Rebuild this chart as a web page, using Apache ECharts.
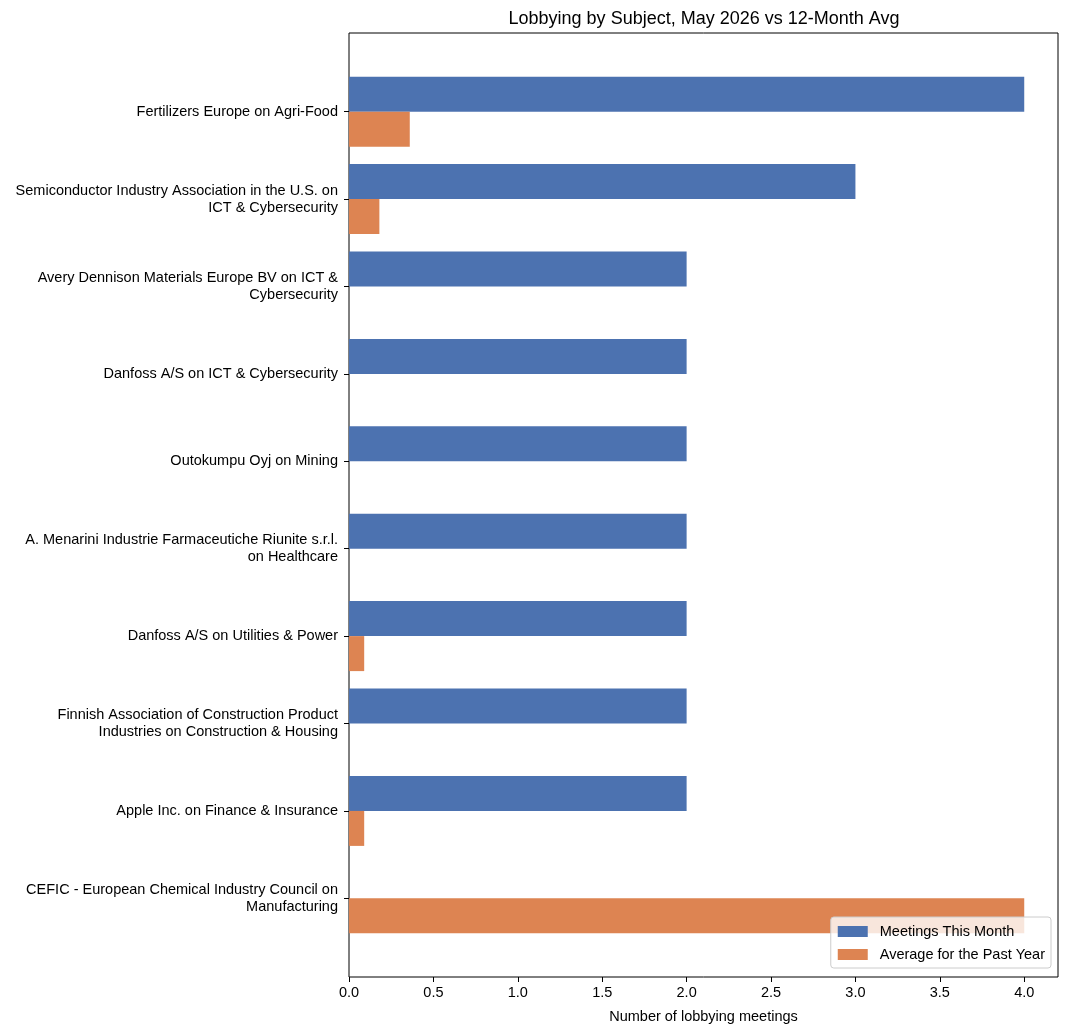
<!DOCTYPE html>
<html>
<head>
<meta charset="utf-8">
<script src="https://cdn.jsdelivr.net/npm/echarts@6/dist/echarts.min.js"></script>
<style>
  html, body { margin: 0; padding: 0; background: #fff; }
  #chart { width: 1069px; height: 1033px; }
</style>
</head>
<body>
<div id="chart"></div>
<script>
// data
var subjects = [
  'Fertilizers Europe on Agri-Food',
  'Semiconductor Industry Association in the U.S. on\nICT & Cybersecurity',
  'Avery Dennison Materials Europe BV on ICT &\nCybersecurity',
  'Danfoss A/S on ICT & Cybersecurity',
  'Outokumpu Oyj on Mining',
  'A. Menarini Industrie Farmaceutiche Riunite s.r.l.\non Healthcare',
  'Danfoss A/S on Utilities & Power',
  'Finnish Association of Construction Product\nIndustries on Construction & Housing',
  'Apple Inc. on Finance & Insurance',
  'CEFIC - European Chemical Industry Council on\nManufacturing'
];
var thisMonth = [4, 3, 2, 2, 2, 2, 2, 2, 2, 0];
var pastYearAvg = [0.36, 0.18, 0, 0, 0, 0, 0.09, 0, 0.09, 4];
var xTicks = [0, 0.5, 1, 1.5, 2, 2.5, 3, 3.5, 4];

var FONT = 'Liberation Sans, Arial, sans-serif';
var myChart = echarts.init(document.getElementById('chart'));

var option = {
  animation: false,
  textStyle: { fontFamily: FONT },
  title: {
    text: 'Lobbying by Subject, May 2026 vs 12-Month Avg',
    left: 699,
    textAlign: 'center',
    top: 5,
    textStyle: { fontFamily: FONT, fontSize: 18, fontWeight: 'normal', color: '#000' }
  },
  legend: {
    orient: 'vertical',
    right: 18,
    bottom: 65,
    itemWidth: 30,
    itemHeight: 11,
    itemGap: 8,
    padding: [7, 6, 6, 7],
    backgroundColor: 'rgba(255,255,255,0.8)',
    borderColor: '#cccccc',
    borderWidth: 1,
    borderRadius: 3,
    textStyle: { fontFamily: FONT, fontSize: 14.5, color: '#000', padding: [0, 0, 0, 7] },
    data: [
      { name: 'Meetings This Month', icon: 'rect' },
      { name: 'Average for the Past Year', icon: 'rect' }
    ]
  },
  grid: [
    // frame + x axis
    { left: 349, right: 11, top: 33, bottom: 56, show: true, borderColor: '#000', borderWidth: 1, backgroundColor: 'transparent' },
    // bars
    { left: 349, right: 11, top: 68, bottom: 91 }
  ],
  xAxis: [
    {
      gridIndex: 0,
      type: 'value',
      min: 0,
      max: 4.2,
      interval: 0.5,
      name: 'Number of lobbying meetings',
      nameLocation: 'middle',
      nameGap: 32,
      nameTextStyle: { fontFamily: FONT, fontSize: 14.5, color: '#000' },
      splitLine: { show: false },
      axisLine: { show: false },
      axisTick: { show: true, length: 5, lineStyle: { color: '#000' } },
      axisLabel: {
        fontFamily: FONT, fontSize: 14.5, color: '#000', margin: 8,
        showMaxLabel: false,
        formatter: function (v) { return xTicks.indexOf(v) >= 0 ? v.toFixed(1) : ''; }
      }
    },
    {
      gridIndex: 1,
      type: 'value',
      min: 0,
      max: 4.2,
      show: false
    }
  ],
  yAxis: [
    {
      gridIndex: 0,
      type: 'value',
      min: 0,
      max: 1,
      show: false
    },
    {
      gridIndex: 1,
      type: 'category',
      inverse: true,
      data: subjects,
      axisLine: { show: false },
      axisTick: { show: true, alignWithLabel: true, length: 5, lineStyle: { color: '#000' } },
      axisLabel: {
        fontFamily: FONT, fontSize: 14.5, color: '#000', margin: 11,
        align: 'right', lineHeight: 17
      }
    }
  ],
  series: [
    {
      name: 'Meetings This Month',
      type: 'bar',
      xAxisIndex: 1,
      yAxisIndex: 1,
      barWidth: 35,
      barGap: '0%',
      itemStyle: { color: '#4c72b0' },
      data: thisMonth
    },
    {
      name: 'Average for the Past Year',
      type: 'bar',
      xAxisIndex: 1,
      yAxisIndex: 1,
      barWidth: 35,
      barGap: '0%',
      itemStyle: { color: '#dd8452' },
      data: pastYearAvg
    }
  ]
};

myChart.setOption(option);
</script>
</body>
</html>
